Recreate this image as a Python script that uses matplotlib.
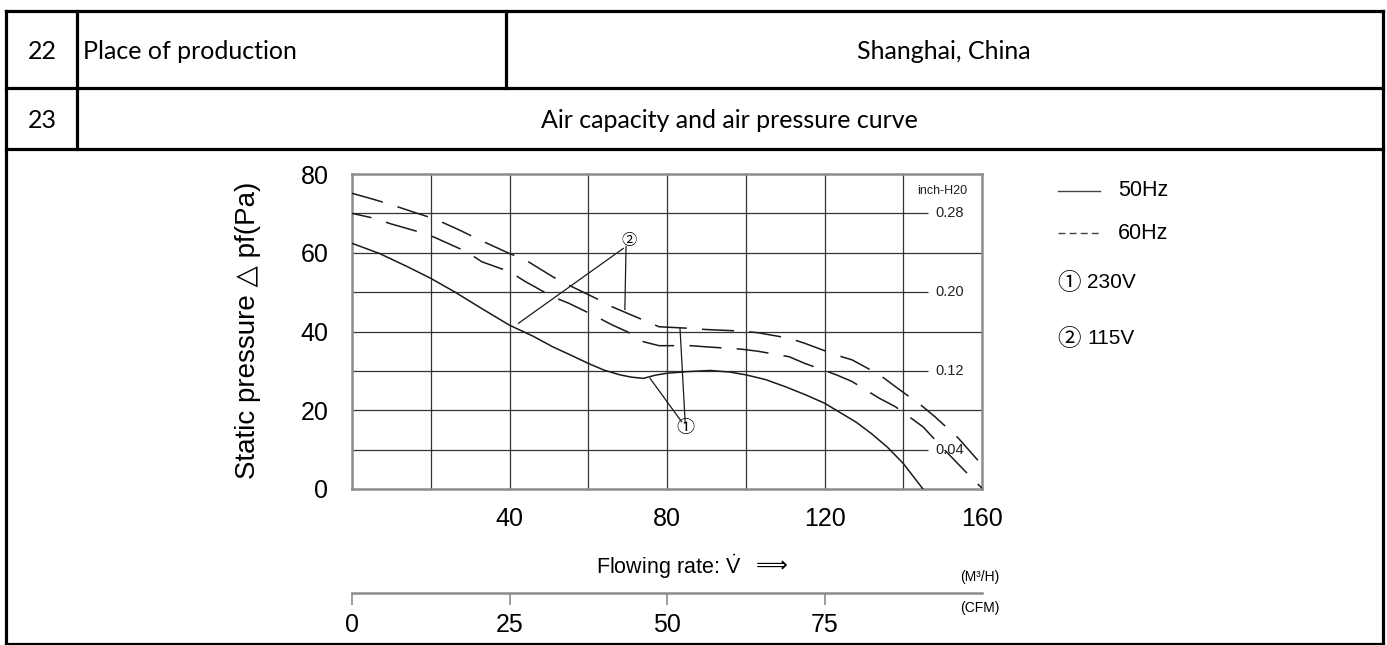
import numpy as np
import matplotlib
matplotlib.use('Agg')
import matplotlib.pyplot as plt
from matplotlib.lines import Line2D

# ---- data ------------------------------------------------------------------
# flow in M3/H, static pressure in Pa
flow_50hz = [0, 7, 14, 20, 26, 33, 40, 46, 51, 56, 60, 64, 68, 71, 74, 77, 80,
             85, 91, 96, 100, 105, 110, 115, 120, 124, 128, 132, 136, 140, 143, 145]
pres_50hz = [62.4, 59.8, 56.5, 53.5, 50.1, 45.8, 41.6, 38.8, 36.1, 33.8, 31.9,
             30.2, 29.0, 28.4, 28.1, 28.9, 29.4, 29.8, 30.1, 29.7, 29.0, 27.8,
             26.0, 24.0, 21.8, 19.4, 17.0, 14.0, 10.6, 6.5, 2.6, 0.0]

flow_60hz_115 = [0, 5, 10, 16, 21, 27, 33, 40, 44, 51, 55, 62, 66, 70, 74, 78,
                 86, 90, 99, 103, 111, 115, 123, 127, 134, 138, 145, 148, 154,
                 157, 160]
pres_60hz_115 = [75.1, 73.7, 72.2, 70.2, 68.6, 65.9, 63.0, 59.8, 58.2, 53.9,
                 51.8, 48.4, 46.3, 44.6, 42.9, 41.2, 40.8, 40.5, 40.1, 39.7,
                 38.3, 37.0, 34.0, 32.8, 29.0, 26.0, 20.9, 18.4, 12.9, 9.5, 6.1]

flow_60hz_230 = [0, 5, 10, 17, 21, 29, 33, 40, 44, 51, 55, 62, 66, 70, 74, 78,
                 86, 90, 99, 103, 111, 115, 123, 127, 134, 138, 145, 151, 157, 160]
pres_60hz_230 = [70.0, 68.9, 67.3, 65.3, 63.9, 60.3, 57.7, 55.2, 52.7, 48.8,
                 47.2, 43.8, 41.7, 39.9, 37.4, 36.4, 36.4, 36.1, 35.5, 35.0,
                 33.6, 31.9, 29.0, 27.3, 23.0, 20.9, 15.8, 9.4, 3.2, 0.2]

x_ticks = [40, 80, 120, 160]
y_ticks = [0, 20, 40, 60, 80]
cfm_ticks = [0, 25, 50, 75]
inch_ticks = [0.04, 0.12, 0.20, 0.28]
pa_per_inch = 250.0      # as drawn on the chart
m3h_per_cfm = 1.6        # as drawn on the chart

# leader lines for the circled markers: (circle pos, [(x0,y0,x1,y1), ...])
mark_2 = (70.4, 63.2)
lead_2 = [(68.9, 61.1, 42.3, 42.1), (69.6, 61.6, 69.3, 45.6)]
mark_1 = (84.6, 15.4)
lead_1 = [(83.7, 17.1, 75.7, 28.1), (84.6, 17.2, 83.3, 40.9)]

table_rows = [('22', 'Place of production', 'Shanghai, China'),
              ('23', 'Air capacity and air pressure curve', None)]

# ---- figure -------------------------------------------------------------------
plt.rcParams['font.family'] = ['Liberation Sans', 'DejaVu Sans', 'Noto Sans CJK SC']
plt.rcParams['mathtext.fontset'] = 'custom'
plt.rcParams['mathtext.rm'] = 'Liberation Sans'
plt.rcParams['mathtext.it'] = 'Liberation Sans:italic'

W, H = 1387, 645
fig = plt.figure(figsize=(W / 100.0, H / 100.0), dpi=100)
fig.patch.set_facecolor('white')

def fx(px):
    return px / float(W)

def fy(py):
    return 1.0 - py / float(H)

def hline(x0, x1, y, **kw):
    fig.add_artist(Line2D([fx(x0), fx(x1)], [fy(y), fy(y)], **kw))

def vline(x, y0, y1, **kw):
    fig.add_artist(Line2D([fx(x), fx(x)], [fy(y0), fy(y1)], **kw))

### table frame
tkw = dict(color='black', lw=2.3, solid_capstyle='projecting')
for y in (10.5, 87.5, 149, 643.5):
    hline(5.5, 1382.5, y, **tkw)
vline(5.5, 10.5, 643.5, **tkw)
vline(1382.5, 10.5, 643.5, **tkw)
vline(77, 10.5, 149, **tkw)
vline(506, 10.5, 87.5, **tkw)

tfont = dict(family='Lato', fontsize=18, color='black', va='baseline')
fig.text(fx(42), fy(59), table_rows[0][0], ha='center', **tfont)
fig.text(fx(83), fy(59), table_rows[0][1], ha='left', **tfont)
fig.text(fx(944), fy(59), table_rows[0][2], ha='center', **tfont)
fig.text(fx(42), fy(128), table_rows[1][0], ha='center', **tfont)
fig.text(fx(729), fy(128), table_rows[1][1], ha='center', **tfont)

### chart
ax = fig.add_axes([fx(352), fy(489), (982 - 352) / float(W), (489 - 174) / float(H)])
ax.set_xlim(0, 160)
ax.set_ylim(0, 80)

gkw = dict(color='#333333', lw=0.9, zorder=1)
ax.vlines(np.arange(20, 160, 20), 0, 80, **gkw)
ax.hlines([20, 40, 60], 0, 160, **gkw)
ax.hlines([t * pa_per_inch for t in inch_ticks], 0, 146.3, **gkw)

for s in ax.spines.values():
    s.set_color('#8c8c8c')
    s.set_linewidth(1.8)

ax.set_xticks(x_ticks)
ax.set_yticks(y_ticks)
ax.tick_params(axis='x', length=0, pad=13, labelsize=18)
ax.tick_params(axis='y', length=0, pad=17, labelsize=18)

ckw = dict(color='#1a1a1a', lw=1.1, zorder=3)
ax.plot(flow_50hz, pres_50hz, **ckw)
ax.plot(flow_60hz_115, pres_60hz_115, ls=(0, (21, 10)), **ckw)
ax.plot(flow_60hz_230, pres_60hz_230, ls=(8, (21, 10)), **ckw)

for x0, y0, x1, y1 in lead_2 + lead_1:
    ax.plot([x0, x1], [y0, y1], color='#1a1a1a', lw=0.9, zorder=3)
ax.text(mark_2[0], mark_2[1], '\u2461', fontsize=11, ha='center', va='center',
        family='Noto Sans CJK SC', zorder=4)
ax.text(mark_1[0], mark_1[1], '\u2460', fontsize=13, ha='center', va='center',
        family='Noto Sans CJK SC', zorder=4)

# inch-H2O scale written inside the grid
for t in inch_ticks:
    ax.text(148.1, t * pa_per_inch, '%.2f' % t, fontsize=10.5, ha='left',
            va='center', color='#222222')
ax.text(149.8, 75.7, 'inch-H20', fontsize=9, ha='center', va='center',
        color='#222222')

# CFM scale under the chart
sec = ax.secondary_xaxis((489 - 593) / 315.0,
                         functions=(lambda x: x / m3h_per_cfm,
                                    lambda x: x * m3h_per_cfm))
sec.set_xticks(cfm_ticks)
sec.spines['bottom'].set_color('#8c8c8c')
sec.spines['bottom'].set_linewidth(1.8)
sec.tick_params(axis='x', direction='out', length=8.6, width=1.2,
                color='#8c8c8c', pad=5.5, labelsize=18)

fig.text(fx(248), fy(330), 'Static pressure \u25b3 pf(Pa)', rotation=90,
         ha='center', va='center', fontsize=20)
fig.text(fx(596), fy(567), r'Flowing rate: $\dot{\mathrm{V}}$', ha='left',
         va='center', fontsize=15.5)
fig.text(fx(772), fy(566), '\u27f9', ha='center', va='center', fontsize=16,
         family='DejaVu Sans')
fig.text(fx(980), fy(577), '(M\u00b3/H)', ha='center', va='center', fontsize=10)
fig.text(fx(980), fy(608), '(CFM)', ha='center', va='center', fontsize=10)

### legend
hline(1058, 1100, 191, color='#444444', lw=1.0)
hline(1058, 1100, 233, color='#444444', lw=1.0, ls=(0, (5, 3)))
fig.text(fx(1118), fy(191), '50Hz', ha='left', va='center', fontsize=15.5)
fig.text(fx(1118), fy(233), '60Hz', ha='left', va='center', fontsize=15.5)
fig.text(fx(1069), fy(283), '\u2460', ha='center', va='center', fontsize=17,
         family='Noto Sans CJK SC')
fig.text(fx(1087), fy(282), '230V', ha='left', va='center', fontsize=15)
fig.text(fx(1069), fy(339), '\u2461', ha='center', va='center', fontsize=17,
         family='Noto Sans CJK SC')
fig.text(fx(1087), fy(338), '115V', ha='left', va='center', fontsize=15)

plt.savefig('out.png', dpi=100)
